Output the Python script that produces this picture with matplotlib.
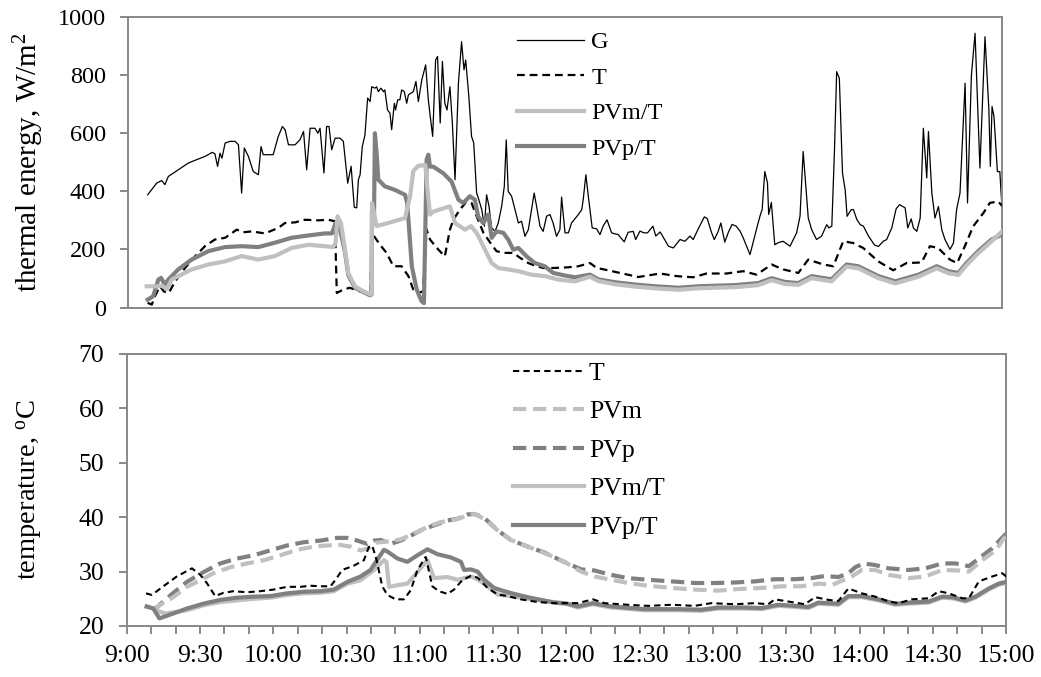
import matplotlib
matplotlib.use('Agg')
import matplotlib.pyplot as plt
from matplotlib.lines import Line2D

plt.rcParams['font.family'] = ['Liberation Serif', 'DejaVu Serif']
plt.rcParams['mathtext.fontset'] = 'custom'
plt.rcParams['mathtext.rm'] = 'Liberation Serif'
plt.rcParams['mathtext.it'] = 'Liberation Serif:italic'

# ---------------- data (time = minutes after 9:00) ----------------
TOP_G = [(8.1,388),(11.8,428),(13.9,437),(15.2,423),(16.6,451),(20.7,474),(24.8,497),(28.3,509),(31.7,520),(34.7,534),(35.8,529),(36.9,486),(37.9,531),(38.7,514),(40.0,566),(42.0,572),(44.1,572),(45.5,560),(46.8,394),(47.9,549),(49.6,520),(51.6,468),(53.7,457),(54.8,554),(55.7,526),(59.8,526),(61.9,589),(63.6,623),(64.7,612),(66.1,560),(68.8,560),(70.8,577),(72.3,606),(73.6,474),(75.0,617),(77.0,617),(78.2,600),(79.1,617),(80.7,463),(81.8,623),(82.8,623),(83.9,543),(85.3,583),(87.3,583),(88.7,572),(90.5,428),(91.9,486),(93.2,345),(94.2,343),(94.9,440),(95.6,457),(96.5,554),(97.6,594),(98.7,721),(99.7,709),(100.4,760),(101.7,755),(102.4,760),(103.1,743),(104.2,755),(105.2,743),(105.8,749),(106.9,680),(107.9,669),(108.6,612),(109.7,703),(110.2,680),(111.1,715),(112.0,715),(112.7,749),(113.8,743),(114.8,703),(115.5,732),(116.6,738),(117.5,743),(118.6,778),(119.6,709),(121.0,783),(122.6,835),(123.7,715),(124.5,657),(125.5,589),(126.7,852),(127.5,864),(128.6,635),(129.5,847),(130.5,703),(131.4,680),(132.6,760),(133.6,635),(134.7,440),(136.1,772),(137.4,915),(138.4,818),(139.1,852),(140.4,726),(141.5,589),(142.4,566),(143.6,394),(144.3,377),(145.7,337),(146.8,280),(147.7,388),(148.7,348),(149.8,274),(151.2,262),(152.5,291),(153.9,348),(155.0,417),(155.8,577),(156.6,400),(158.0,383),(159.4,337),(160.8,291),(162.1,297),(163.5,245),(164.9,268),(166.2,337),(167.3,394),(168.3,348),(169.7,280),(171.0,262),(172.4,314),(173.8,320),(175.1,291),(176.5,245),(177.9,268),(178.6,380),(180.0,257),(181.4,257),(182.7,291),(185.5,320),(186.9,337),(187.5,371),(188.6,457),(189.6,383),(191.2,274),(193.0,271),(194.4,251),(195.7,280),(197.3,302),(199.2,257),(200.3,254),(201.9,251),(204.4,226),(206.0,259),(208.1,262),(209.1,234),(210.9,263),(212.5,257),(214.0,257),(216.2,280),(217.4,246),(219.2,260),(221.0,234),(222.6,211),(224.6,205),(227.4,234),(229.4,228),(231.5,246),(232.8,234),(234.9,271),(237.4,312),(238.6,306),(240.4,257),(241.5,234),(243.0,260),(244.2,291),(245.8,225),(247.2,257),(248.8,286),(250.5,280),(252.1,263),(253.4,240),(254.8,211),(256.2,182),(257.6,228),(259.2,280),(260.5,320),(261.2,337),(262.3,468),(263.4,429),(263.9,320),(265.0,362),(266.4,216),(267.8,223),(269.8,228),(271.2,220),(272.7,211),(275.4,257),(276.8,314),(278.1,537),(280.2,308),(281.6,268),(283.6,234),(285.7,246),(287.8,285),(288.7,274),(289.9,280),(291.0,543),(291.9,812),(293.0,789),(294.3,463),(295.4,405),(296.2,314),(297.9,337),(298.8,337),(300.2,303),(301.6,285),(302.9,280),(305.0,246),(307.5,215),(309.1,210),(311.1,228),(312.5,234),(314.6,274),(316.4,340),(317.8,354),(320.1,343),(321.2,274),(322.6,305),(323.5,274),(324.9,262),(326.3,308),(327.6,617),(329.0,446),(329.7,606),(331.1,394),(332.4,308),(333.8,348),(335.2,268),(336.5,234),(338.6,200),(340.0,222),(341.3,337),(342.7,394),(344.8,772),(345.8,360),(347.4,800),(348.9,944),(350.9,480),(353.0,932),(354.6,680),(355.2,486),(355.9,692),(356.7,657),(358.1,468),(359.1,468),(360.0,343)]

TOP_T = [(8.1,16),(9.8,10),(11.1,39),(13.2,73),(14.8,55),(16.8,50),(19.4,90),(23.5,136),(27.6,176),(31.7,211),(35.8,234),(40.0,240),(44.8,268),(47.5,259),(51.0,262),(56.4,255),(61.9,274),(64.7,291),(68.8,293),(72.9,302),(78.4,300),(82.5,302),(85.2,297),(86.0,50),(88.7,62),(91.4,68),(94.9,57),(98.5,50),(99.8,50),(100.4,257),(103.8,216),(106.5,188),(109.3,142),(112.7,142),(115.5,108),(117.5,62),(119.6,51),(121.5,55),(123.0,268),(124.4,234),(127.2,205),(130.5,176),(132.6,268),(134.0,302),(136.7,337),(139.2,362),(141.5,360),(143.6,314),(146.4,257),(149.8,216),(151.8,194),(154.6,188),(158.7,188),(161.5,171),(164.9,153),(168.3,142),(171.1,136),(175.2,136),(180.7,138),(185.5,142),(190.3,153),(193.1,136),(197.8,128),(202.6,119),(210.2,105),(219.2,117),(226.0,108),(232.8,104),(238.3,117),(246.6,117),(253.4,125),(258.9,113),(265.1,148),(269.9,131),(276.1,119),(280.2,165),(286.4,148),(290.5,142),(294.6,228),(298.7,222),(302.8,205),(309.0,159),(315.2,128),(320.7,153),(326.9,155),(330.3,211),(333.7,205),(338.5,165),(341.5,153),(344.7,211),(348.1,279),(352.3,325),(355.0,360),(358.4,365),(360.0,350)]

TOP_PVMT = [(7.7,73),(11.8,73),(13.9,75),(16.0,64),(18.0,96),(26.2,131),(33.1,148),(40.0,159),(46.8,177),(53.7,165),(60.5,177),(67.4,205),(74.3,216),(81.1,211),(84.5,208),(85.5,222),(86.3,314),(87.7,291),(89.4,199),(90.7,119),(93.5,73),(96.5,58),(99.7,45),(100.3,47),(100.5,360),(102.4,280),(107.2,291),(114.1,308),(116.2,383),(117.5,470),(119.6,488),(122.5,490),(123.2,420),(124.4,320),(125.7,330),(131.2,345),(132.6,348),(134.7,291),(136.7,280),(138.8,268),(141.3,280),(143.6,257),(145.7,222),(147.7,188),(149.8,153),(152.5,136),(156.6,131),(160.8,125),(166.2,113),(171.7,108),(177.2,96),(184.1,90),(190.3,106),(193.7,91),(200.6,80),(208.8,72),(217.1,66),(226.7,61),(234.9,66),(241.8,68),(250.0,70),(259.6,77),(265.1,94),(270.6,81),(276.1,78),(281.6,101),(289.8,90),(296.0,141),(300.8,135),(309.1,101),(316.0,83),(325.6,106),(333.1,135),(337.9,118),(342.0,112),(345.4,146),(350.2,187),(355.7,228),(360.0,262)]

TOP_PVPT = [(8.1,27),(10.4,39),(12.5,96),(13.6,102),(15.2,79),(16.6,96),(20.7,131),(26.2,165),(33.1,194),(40.0,208),(46.8,211),(53.7,208),(60.5,223),(67.4,240),(74.3,248),(81.1,255),(84.0,255),(85.5,291),(86.3,280),(87.7,255),(89.4,190),(90.7,112),(93.5,68),(96.5,55),(99.7,42),(100.3,45),(100.5,330),(101.3,290),(101.7,600),(102.4,531),(103.1,440),(105.8,417),(109.9,405),(114.1,388),(115.0,360),(116.9,142),(118.9,62),(120.9,22),(121.9,15),(123.0,509),(123.7,526),(124.4,485),(125.7,485),(129.9,462),(133.3,433),(136.1,371),(138.1,360),(140.8,383),(142.9,371),(144.2,314),(146.3,290),(148.4,320),(149.8,240),(151.8,262),(154.6,257),(156.6,234),(158.7,199),(160.8,205),(164.2,176),(167.6,153),(171.7,142),(175.1,119),(180.0,110),(184.1,104),(190.3,113),(193.7,97),(200.6,87),(208.8,79),(217.1,73),(226.7,68),(234.9,73),(241.8,75),(250.0,77),(259.6,84),(265.1,101),(270.6,88),(276.1,84),(281.6,108),(289.8,97),(296.0,148),(300.8,142),(309.1,108),(316.0,90),(325.6,113),(333.1,142),(337.9,125),(342.0,119),(345.4,153),(350.2,194),(355.7,234),(360.0,251)]

BOT_T = [(7.9,26.0),(10.3,25.7),(15.0,27.3),(20.5,29.1),(26.7,30.6),(30.1,29.4),(32.8,27.9),(36.2,25.5),(39.6,26.1),(43.7,26.4),(49.2,26.2),(54.7,26.4),(60.2,26.7),(65.6,27.2),(71.1,27.2),(75.2,27.4),(79.3,27.3),(83.4,27.3),(85.5,28.5),(88.2,30.3),(93.0,31.1),(97.1,32.1),(99.1,34.5),(100.5,34.8),(102.3,32.1),(104.6,27.3),(106.7,25.7),(110.1,24.9),(113.5,24.9),(116.3,26.6),(119.0,30.3),(122.4,32.7),(125.1,27.3),(127.8,26.4),(131.3,25.9),(134.0,26.7),(137.5,28.5),(140.9,29.2),(143.6,28.9),(147.7,27.0),(151.8,25.8),(155.9,25.5),(161.4,24.9),(168.3,24.4),(175.2,24.2),(184.6,24.2),(190.8,24.9),(195.6,24.2),(205.2,23.9),(213.4,23.7),(223.0,23.9),(232.5,23.7),(239.3,24.2),(248.9,24.0),(257.1,24.2),(262.6,24.0),(265.3,24.9),(269.4,24.6),(277.6,24.0),(281.8,25.3),(287.2,24.8),(291.3,24.6),(295.4,26.9),(300.9,26.0),(306.4,25.4),(311.9,24.5),(316.0,24.2),(321.4,24.9),(328.3,25.1),(332.4,26.4),(336.5,26.0),(342.0,25.1),(344.7,25.1),(348.8,28.2),(354.3,29.1),(358.4,29.7),(360.0,29.1)]

BOT_PVM = [(10.5,23.0),(12.3,23.5),(19.1,25.3),(24.6,27.2),(30.1,28.4),(35.5,29.7),(42.4,30.8),(49.2,31.5),(56.1,32.1),(62.9,33.0),(69.7,34.0),(76.6,34.6),(82.1,34.8),(87.5,34.9),(91.6,34.6),(95.7,33.9),(99.0,34.3),(102.0,35.3),(106.0,35.5),(112.0,35.9),(116.2,36.7),(123.1,38.2),(128.5,39.1),(134.0,39.5),(139.5,40.3),(142.2,40.6),(146.3,39.7),(151.8,37.6),(157.3,35.8),(164.1,34.6),(171.0,33.4),(179.2,31.8),(186.0,30.0),(191.5,29.1),(198.3,28.5),(205.2,27.9),(213.4,27.4),(223.0,27.0),(232.5,26.7),(242.1,26.5),(250.3,26.8),(259.9,27.0),(268.1,27.3),(276.3,27.3),(283.2,27.8),(289.0,27.6),(296.8,29.1),(300.9,30.3),(306.4,30.3),(311.9,29.4),(320.1,28.8),(326.9,29.1),(333.8,30.3),(340.6,30.2),(344.7,30.0),(350.2,32.1),(355.7,33.9),(360.0,36.7)]

BOT_PVP = [(10.5,23.2),(12.3,23.4),(17.8,25.6),(24.6,28.1),(31.4,29.9),(38.3,31.5),(45.1,32.4),(52.0,33.0),(58.8,33.9),(65.6,34.8),(72.5,35.4),(79.3,35.7),(86.2,36.2),(90.3,36.2),(94.4,35.7),(98.5,35.1),(101.2,35.7),(104.0,35.8),(108.0,35.1),(112.1,35.7),(116.3,36.6),(120.4,37.6),(125.8,38.5),(131.3,39.4),(135.4,39.7),(139.5,40.5),(142.2,40.6),(146.3,39.9),(151.8,37.6),(157.3,35.8),(164.1,34.6),(171.0,33.5),(178.5,31.9),(186.0,30.4),(191.5,30.2),(198.3,29.4),(205.2,28.8),(213.4,28.5),(223.0,28.2),(232.5,27.9),(240.7,27.9),(248.9,28.0),(257.1,28.2),(265.3,28.6),(273.5,28.6),(280.3,28.8),(285.8,29.2),(291.3,29.0),(295.4,29.7),(298.2,30.8),(301.6,31.5),(306.4,31.2),(311.9,30.6),(320.1,30.3),(326.9,30.6),(333.8,31.5),(339.2,31.5),(344.7,31.0),(348.8,32.4),(354.3,34.3),(360.0,37.0)]

BOT_PVMT = [(8.2,23.5),(11.6,23.2),(13.7,22.6),(16.0,22.3),(24.6,22.9),(31.4,23.8),(38.3,24.4),(52.0,25.0),(58.8,25.2),(65.6,25.7),(72.5,26.0),(79.3,26.1),(84.8,26.4),(90.3,27.8),(95.7,28.4),(101.2,30.3),(105.3,32.1),(106.3,31.8),(107.4,27.2),(110.8,27.5),(114.9,27.8),(119.0,29.9),(123.1,32.1),(125.8,28.8),(131.3,29.0),(135.4,28.5),(140.9,29.1),(143.6,28.6),(147.7,27.3),(151.8,25.8),(157.3,25.5),(164.1,25.0),(171.0,24.6),(179.2,24.2),(184.6,23.4),(190.8,24.0),(198.3,23.4),(212.0,22.9),(225.7,22.9),(235.2,22.8),(242.1,23.2),(253.0,23.2),(259.9,23.1),(266.7,23.7),(273.5,23.5),(279.0,23.3),(283.1,24.1),(291.3,23.9),(295.4,25.3),(300.9,25.3),(307.7,24.7),(314.6,23.9),(320.1,24.1),(328.3,24.3),(333.8,25.2),(337.9,25.1),(343.3,24.5),(347.4,25.2),(352.9,26.7),(357.0,27.6),(360.0,27.9)]

BOT_PVPT = [(8.2,23.6),(10.9,23.2),(13.4,21.4),(19.1,22.3),(24.6,23.2),(31.4,24.1),(38.3,24.8),(45.1,25.2),(52.0,25.4),(58.8,25.5),(65.6,26.0),(72.5,26.3),(79.3,26.4),(84.8,26.7),(90.3,28.1),(95.7,29.1),(99.8,30.3),(105.3,34.0),(106.7,33.7),(110.8,32.4),(114.9,31.8),(119.0,33.0),(123.1,34.1),(127.2,33.2),(132.7,32.6),(136.8,31.8),(138.1,30.3),(140.9,30.4),(143.6,30.0),(146.3,28.5),(150.4,27.0),(154.5,26.4),(158.6,25.9),(164.1,25.3),(169.6,24.8),(175.0,24.3),(180.5,24.1),(184.6,23.6),(190.8,24.2),(198.3,23.6),(212.0,23.1),(225.7,23.1),(235.2,23.0),(242.1,23.4),(253.0,23.4),(259.9,23.3),(266.7,23.9),(273.5,23.7),(279.0,23.5),(283.1,24.3),(291.3,24.1),(295.4,25.5),(300.9,25.5),(307.7,24.9),(314.6,24.1),(320.1,24.3),(328.3,24.5),(333.8,25.4),(337.9,25.3),(343.3,24.7),(347.4,25.4),(352.9,26.9),(357.0,27.8),(360.0,28.1)]

X_TICKS = list(range(0, 361, 30))
X_LABELS = ['9:00', '9:30', '10:00', '10:30', '11:00', '11:30', '12:00',
            '12:30', '13:00', '13:30', '14:00', '14:30', '15:00']
TOP_YTICKS = [0, 200, 400, 600, 800, 1000]
BOT_YTICKS = [20, 30, 40, 50, 60, 70]

DARK = '#808080'
LIGHT = '#c0c0c0'
SPINE = '#888888'


def split(d):
    return [p[0] for p in d], [p[1] for p in d]


def style_axes(ax, fs):
    for s in ax.spines.values():
        s.set_color(SPINE)
        s.set_linewidth(1.4)
    ax.tick_params(axis='y', direction='out', length=6, width=1.4,
                   color=SPINE, labelsize=fs, pad=10)
    ax.set_xlim(0, 360)


W, H = 1041, 677
fig = plt.figure(figsize=(W / 100, H / 100), dpi=100)

# ---------------- top panel ----------------
ax1 = fig.add_axes([128 / W, 1 - 307.5 / H, 874 / W, 290.5 / H])
style_axes(ax1, 17.5)
ax1.set_ylim(0, 1000)
ax1.set_yticks(TOP_YTICKS)
ax1.set_xticks([])

t, v = split(TOP_G)
ax1.plot(t, v, color='black', lw=0.9, zorder=2)
t, v = split(TOP_T)
ax1.plot(t, v, color='black', lw=1.6, dashes=(3.5, 2.2), zorder=3)
t, v = split(TOP_PVPT)
ax1.plot(t, v, color=DARK, lw=3.0, zorder=4, solid_joinstyle='round')
t, v = split(TOP_PVMT)
ax1.plot(t, v, color=LIGHT, lw=3.0, zorder=5, solid_joinstyle='round')

h_top = [Line2D([], [], color='black', lw=0.9),
         Line2D([], [], color='black', lw=1.6, dashes=(3.5, 2.2)),
         Line2D([], [], color=LIGHT, lw=3.0),
         Line2D([], [], color=DARK, lw=3.0)]
ax1.legend(h_top, ['G', 'T', 'PVm/T', 'PVp/T'], loc='upper left',
           bbox_to_anchor=(517 / W, 1 - 31 / H), bbox_transform=fig.transFigure,
           frameon=False, fontsize=17.5, handlelength=2.75, handletextpad=0.3,
           labelspacing=0.555, borderpad=0, borderaxespad=0)
ax1.set_ylabel('thermal energy, W/m$^2$', fontsize=21)
ax1.yaxis.set_label_coords((46 - 128) / 874, 0.5)

# ---------------- bottom panel ----------------
ax2 = fig.add_axes([126.7 / W, 1 - 626 / H, 879.5 / W, 272 / H])
style_axes(ax2, 18.5)
ax2.set_ylim(20, 70)
ax2.set_yticks(BOT_YTICKS)
ax2.set_xticks(X_TICKS)
ax2.set_xticklabels(X_LABELS)
ax2.set_xticks(range(0, 361, 10), minor=True)
ax2.tick_params(axis='x', which='both', direction='out', length=6, width=1.4,
                color=SPINE, labelsize=18.5, pad=8)

t, v = split(BOT_T)
ax2.plot(t, v, color='black', lw=1.5, dashes=(3.0, 2.0), zorder=6)
t, v = split(BOT_PVM)
ax2.plot(t, v, color=LIGHT, lw=3.0, dashes=(3.2, 1.6), zorder=3)
t, v = split(BOT_PVP)
ax2.plot(t, v, color=DARK, lw=3.0, dashes=(3.2, 1.6), zorder=2)
t, v = split(BOT_PVMT)
ax2.plot(t, v, color=LIGHT, lw=3.0, zorder=4)
t, v = split(BOT_PVPT)
ax2.plot(t, v, color=DARK, lw=3.0, zorder=5)

h_bot = [Line2D([], [], color='black', lw=1.5, dashes=(3.0, 2.0)),
         Line2D([], [], color=LIGHT, lw=3.0, dashes=(3.2, 1.6)),
         Line2D([], [], color=DARK, lw=3.0, dashes=(3.2, 1.6)),
         Line2D([], [], color=LIGHT, lw=3.0),
         Line2D([], [], color=DARK, lw=3.0)]
ax2.legend(h_bot, ['T', 'PVm', 'PVp', 'PVm/T', 'PVp/T'], loc='upper left',
           bbox_to_anchor=(513 / W, 1 - 362 / H), bbox_transform=fig.transFigure,
           frameon=False, fontsize=18.5, handlelength=2.75, handletextpad=0.2,
           labelspacing=0.60, borderpad=0, borderaxespad=0)
ax2.set_ylabel('temperature, $^{\\mathrm{o}}$C', fontsize=20.5)
ax2.yaxis.set_label_coords((45 - 126.7) / 879.5, 0.5)

fig.savefig('out.png', dpi=100)
